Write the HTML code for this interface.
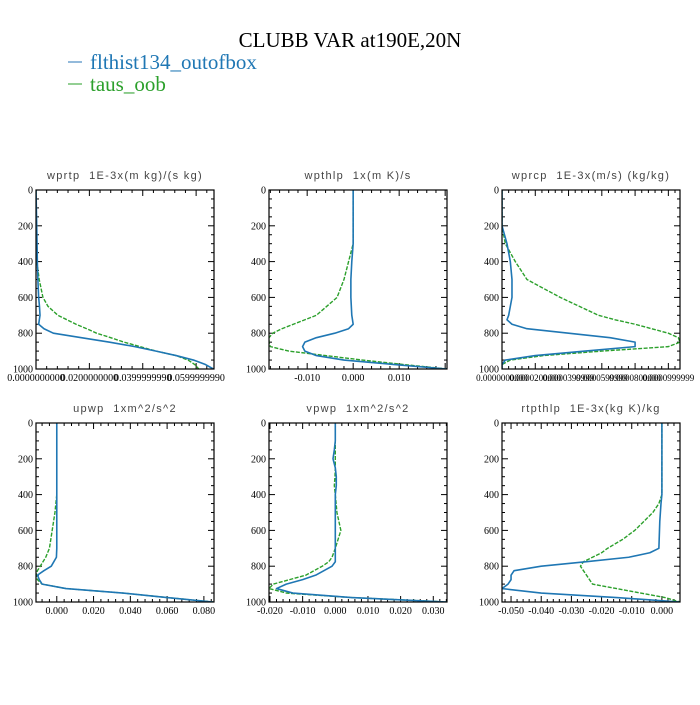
<!DOCTYPE html>
<html><head><meta charset="utf-8"><style>
body{margin:0;background:#fff;width:700px;height:700px;overflow:hidden}
svg text{font-family:"Liberation Serif",serif}
</style></head><body>
<svg id="chart" width="700" height="700" xmlns="http://www.w3.org/2000/svg">
<text x="350" y="47" text-anchor="middle" font-size="21" fill="#000">CLUBB VAR at190E,20N</text>
<g>
<g><line x1="68" y1="62" x2="82" y2="62" stroke="#6fa3cf" stroke-width="1.5"/><text x="90" y="69" font-size="21" fill="#1f77b4">flthist134_outofbox</text></g>
<g><line x1="68" y1="84" x2="82" y2="84" stroke="#6fbf6f" stroke-width="1.5"/><text x="90" y="91" font-size="21" fill="#2ca02c">taus_oob</text></g>
</g>
<g id="panels"></g>
</svg>
<script>
// ---- data ----
const titles=["wprtp  1E-3x(m kg)/(s kg)","wpthlp  1x(m K)/s","wprcp  1E-3x(m/s) (kg/kg)","upwp  1xm^2/s^2","vpwp  1xm^2/s^2","rtpthlp  1E-3x(kg K)/kg"];
const yTicks=[0,200,400,600,800,1000];
const lev1=[0,300,400,500,600,650,700,750,775,800,825,850,875,900,925,950,975,1000];
const blue1=[0,0.0004,0.0005,0.0007,0.001,0.0013,0.0015,0.001,0.003,0.0065,0.017,0.0276,0.037,0.045,0.0525,0.059,0.0635,0.0665];
const green1=[0,0,0.0003,0.0012,0.0026,0.0045,0.0082,0.015,0.019,0.0227,0.028,0.033,0.039,0.045,0.0525,0.057,0.0595,0.061];
const xTicks1=[0,0.02,0.04,0.06];
const xLabels1=["0.0000000000","0.0200000000","0.0399999990","0.0599999990"];
const lev2=[0,300,400,500,600,700,750,775,800,825,850,875,900,925,950,975,1000];
const blue2=[0,0,-0.0003,-0.0005,-0.0005,-0.0003,0,-0.001,-0.004,-0.008,-0.0105,-0.011,-0.0105,-0.008,-0.002,0.009,0.0204];
const green2=[0,0,-0.001,-0.002,-0.0035,-0.008,-0.013,-0.0155,-0.0175,-0.0183,-0.0183,-0.018,-0.014,-0.006,0.002,0.011,0.0204];
const xTicks2=[-0.01,0,0.01];
const xLabels2=["-0.010","0.000","0.010"];
const lev3=[0,200,300,400,500,600,700,725,750,775,800,825,850,875,900,925,950,975,1000];
const blue3=[0,0,0.000003,0.000005,0.000006,0.000006,0.000004,0.000003,0.000006,0.000015,0.00004,0.000065,0.00008,0.00008,0.00005,0.00002,0.000002,0,0];
const green3=[0,0,0.000002,0.000008,0.000015,0.000035,0.000058,0.000068,0.00008,0.00009,0.0001,0.000106,0.000107,0.0001,0.00006,0.000025,0.000005,0,0];
const xTicks3=[0,0.00002,0.00004,0.00006,0.00008,0.0001];
const xLabels3=["0.0000000000","0.0000200000","0.0000399999","0.0000599999","0.0000800000","0.0000999999"];
const lev4=[0,400,500,600,700,750,800,825,850,875,900,925,950,975,1000];
const blue4=[0,0,0,0,0,-0.0002,-0.003,-0.007,-0.0105,-0.0095,-0.008,0.005,0.036,0.06,0.085];
const green4=[0,0,-0.001,-0.0025,-0.004,-0.006,-0.009,-0.0105,-0.0113,-0.0105,-0.008,0.005,0.036,0.06,0.085];
const xTicks4=[0,0.02,0.04,0.06,0.08];
const xLabels4=["0.000","0.020","0.040","0.060","0.080"];
const lev5=[0,100,150,200,250,300,350,400,500,600,700,750,775,800,850,875,900,925,950,975,1000];
const blue5=[0,0,-0.0003,-0.0007,0,0.0003,0.0003,0,0,0,0,0,0,-0.001,-0.006,-0.01,-0.015,-0.018,-0.013,0.005,0.0342];
const green5=[0,0,0,0,0,-0.0001,-0.0003,0,0.0005,0.0017,0,-0.001,-0.002,-0.004,-0.009,-0.014,-0.019,-0.0203,-0.015,0.005,0.0342];
const xTicks5=[-0.02,-0.01,0,0.01,0.02,0.03];
const xLabels5=["-0.020","-0.010","0.000","0.010","0.020","0.030"];
const lev6=[0,400,450,500,550,600,650,700,725,750,775,800,825,850,875,900,925,950,975,1000];
const blue6=[0,0,-0.0003,-0.0005,-0.0007,-0.0008,-0.0009,-0.001,-0.004,-0.011,-0.025,-0.04,-0.049,-0.05,-0.05,-0.051,-0.053,-0.04,-0.015,0.006];
const green6=[0,0,-0.001,-0.003,-0.006,-0.009,-0.013,-0.018,-0.02,-0.023,-0.026,-0.027,-0.026,-0.025,-0.024,-0.023,-0.015,-0.007,0.001,0.006];
const xTicks6=[-0.05,-0.04,-0.03,-0.02,-0.01,0];
const xLabels6=["-0.050","-0.040","-0.030","-0.020","-0.010","0.000"];
const xMin=[0,-0.0183,0,-0.0113,-0.0203,-0.053];
const xMax=[0.0667,0.0204,0.000107,0.0855,0.0342,0.006];

const panels=[
 {lev:lev1,b:blue1,g:green1,xt:xTicks1,xl:xLabels1},
 {lev:lev2,b:blue2,g:green2,xt:xTicks2,xl:xLabels2},
 {lev:lev3,b:blue3,g:green3,xt:xTicks3,xl:xLabels3},
 {lev:lev4,b:blue4,g:green4,xt:xTicks4,xl:xLabels4},
 {lev:lev5,b:blue5,g:green5,xt:xTicks5,xl:xLabels5},
 {lev:lev6,b:blue6,g:green6,xt:xTicks6,xl:xLabels6}];
const NS="http://www.w3.org/2000/svg";
const root=document.getElementById('panels');
function mk(tag,attrs,parent){const e=document.createElementNS(NS,tag);for(const k in attrs)e.setAttribute(k,attrs[k]);parent.appendChild(e);return e;}
const lefts=[36,269,502],tops=[190,423],W=178,H=179;
panels.forEach((p,i)=>{
 const L=lefts[i%3],T=tops[Math.floor(i/3)],R=L+W,B=T+H;
 const xs=v=>L+(v-xMin[i])/(xMax[i]-xMin[i])*W;
 const ys=v=>T+v/1000*H;
 const g=mk('g',{},root);
 
 
 const t=mk('text',{x:(L+R)/2,y:T-11,'text-anchor':'middle','font-size':'11',fill:'#444','xml:space':'preserve',style:'font-family:"Liberation Sans",sans-serif;white-space:pre;letter-spacing:1.3px'},g);
 t.textContent=titles[i];
 
 
 for(let v=0;v<=1000;v+=50){
  const maj=v%200===0,len=maj?6:3,y=ys(v);
  mk('line',{x1:L,y1:y,x2:L+len,y2:y,stroke:'#000','stroke-width':1},g);
  mk('line',{x1:R,y1:y,x2:R-len,y2:y,stroke:'#000','stroke-width':1},g);
 }
 yTicks.forEach(v=>{
  const tx=mk('text',{x:L-3,y:ys(v)+3.5,'text-anchor':'end','font-size':'10',fill:'#000'},g);
  tx.textContent=v;
  
  
 });
 const step=p.xt[1]-p.xt[0],minor=step/5;
 for(let k=-60;k<=60;k++){
  const v=p.xt[0]+k*minor;
  if(v<xMin[i]-1e-12||v>xMax[i]+1e-12)continue;
  const maj=Math.abs(k%5)===0,len=maj?6:3,x=xs(v);
  mk('line',{x1:x,y1:B,x2:x,y2:B-len,stroke:'#000','stroke-width':1},g);
  mk('line',{x1:x,y1:T,x2:x,y2:T+len,stroke:'#000','stroke-width':1},g);
 }
 p.xt.forEach((v,j)=>{
  const tx=mk('text',{x:xs(v),y:B+12,'text-anchor':'middle','font-size':(i===2?'9':'10'),fill:'#000'},g);
  tx.textContent=p.xl[j];
  
  
 });
 const clip='clip'+i;
 const cp=mk('clipPath',{id:clip},g);mk('rect',{x:L,y:T,width:W,height:H},cp);
 const lg=mk('polyline',{points:p.g.map((v,j)=>xs(v)+','+ys(p.lev[j])).join(' '),fill:'none',stroke:'#2ca02c','stroke-width':1.4,'stroke-dasharray':'4,1.5','clip-path':'url(#'+clip+')','stroke-linejoin':'round'},g);
 
 
 const lb=mk('polyline',{points:p.b.map((v,j)=>xs(v)+','+ys(p.lev[j])).join(' '),fill:'none',stroke:'#1f77b4','stroke-width':1.6,'clip-path':'url(#'+clip+')','stroke-linejoin':'round'},g);
 
 
 const fr=mk('rect',{x:L,y:T,width:W,height:H,fill:'none',stroke:'#000','stroke-width':1.2},g);
 
 
});
</script>
</body></html>
